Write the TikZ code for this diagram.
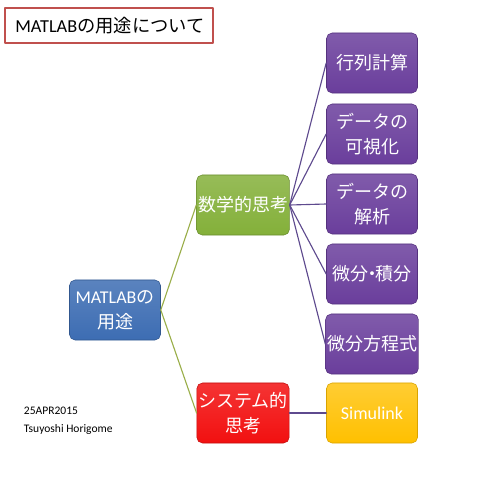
\documentclass[tikz,border=0pt]{standalone}
\usepackage{fontspec}
\setmainfont{Carlito}
\newfontfamily\cjk{Noto Sans CJK JP}
\usetikzlibrary{arrows.meta}

\definecolor{titlered}{HTML}{C0504D}
\definecolor{rootblue}{HTML}{3D6DB3}
\definecolor{mathgreen}{HTML}{84B03A}
\definecolor{sysred}{HTML}{F21010}
\definecolor{usepurple}{HTML}{6A3E9C}
\definecolor{simyellow}{HTML}{FFC000}
\definecolor{olive}{HTML}{9AAE4A}
\definecolor{linepurple}{HTML}{5E4A8E}

\begin{document}
\begin{tikzpicture}[x=0.025cm, y=-0.025cm, line cap=round, line join=round,
    box/.style={rounded corners=4pt, minimum width=2.275cm, minimum height=1.5cm,
        align=center, text=white, inner sep=1pt,
        font=\cjk\fontsize{12.8}{17.5}\selectfont},
    root/.style={box, draw=rootblue!80!black, top color=rootblue!85!white, bottom color=rootblue},
    mathbox/.style={box, draw=mathgreen!80!black, top color=mathgreen!85!white, bottom color=mathgreen},
    sysbox/.style={box, draw=sysred!80!black, top color=sysred!85!white, bottom color=sysred},
    usebox/.style={box, draw=usepurple!80!black, top color=usepurple!85!white, bottom color=usepurple},
    simbox/.style={box, draw=simyellow!85!black, top color=simyellow!80!white, bottom color=simyellow},
    branch/.style={olive, line width=0.8pt},
    leaf/.style={linepurple, line width=0.8pt}]

    % Page
    \useasboundingbox (0,0) rectangle (480,480);

    % Title
    \draw[titlered, line width=1.1pt, fill=white] (5,8) rectangle (213,43);
    \node[font=\fontsize{13}{15}\selectfont] (title) at (110,26) {MATLAB{\cjk の用途について}};

    % Tree
    \node[root] (matlab) at (115,310) {{\rmfamily MATLAB}の\\用途};
    \node[mathbox] (math) at (243,205) {数学的思考};
    \node[sysbox] (sys) at (243,413) {システム的\\思考};

    \node[usebox] (matrix) at (372,63) {行列計算};
    \node[usebox] (visual) at (372,134) {データの\\可視化};
    \node[usebox] (analysis) at (372,204) {データの\\解析};
    \node[usebox] (calculus) at (372,274) {微分{\kern-0.3em}・{\kern-0.3em}積分};
    \node[usebox] (diffeq) at (372,344) {微分方程式};
    \node[simbox] (simulink) at (372,413) {\rmfamily Simulink};

    % Connectors
    \draw[branch] (matlab.east) -- (math.west);
    \draw[branch] (matlab.east) -- (sys.west);
    \foreach \n in {matrix, visual, analysis, calculus, diffeq}
        \draw[leaf] (math.east) -- (\n.west);
    \draw[leaf] (sys.east) -- (simulink.west);

    % Date
    \node[anchor=west, align=left, font=\fontsize{8.2}{12.8}\selectfont] (date) at (19,421)
        {25APR2015\\Tsuyoshi Horigome};

\end{tikzpicture}
\end{document}
